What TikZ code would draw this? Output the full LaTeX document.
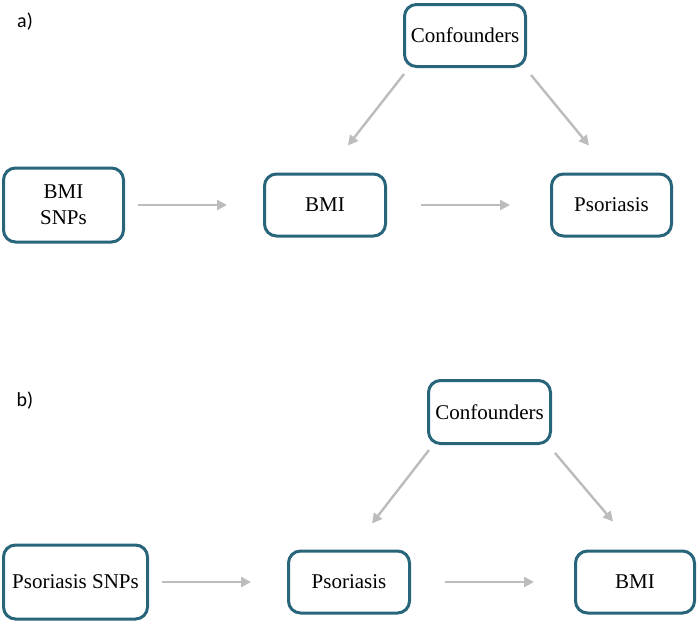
\documentclass[tikz,border=0pt]{standalone}
\usepackage{fontspec}
\setmainfont{Liberation Serif}
\newfontfamily\panelfont{Carlito}
\usetikzlibrary{arrows.meta}
\definecolor{boxteal}{RGB}{40,101,122}
\definecolor{linkgray}{RGB}{188,188,188}
\tikzstyle{box}=[draw=boxteal,line width=1.5pt,rounded corners=6pt,align=center,inner sep=0pt,font=\rmfamily\fontsize{10.5}{13}\selectfont]
\tikzstyle{link}=[draw=linkgray,line width=1.2pt,-{Triangle[length=5pt,width=5pt]}]
\tikzstyle{panel}=[font=\panelfont\fontsize{10}{12}\selectfont]

\begin{document}
\begin{tikzpicture}[x=0.5pt,y=-0.5pt]
	\useasboundingbox (0,0) rectangle (700,623);

	% a)
	\node(lab_a)[panel] at (25,22){a)};
	\node(conf_a)[box,minimum width=60.5pt,minimum height=31pt] at (465,35.5){Confounders};
	\node(snps_a)[box,minimum width=60pt,minimum height=37pt] at (63.5,205){BMI\\SNPs};
	\node(bmi_a)[box,minimum width=60.5pt,minimum height=31pt] at (325,205){BMI};
	\node(psor_a)[box,minimum width=60pt,minimum height=31pt] at (611.5,205){Psoriasis};

	\path (snps_a) edge[link,shorten <=6.5pt,shorten >=18pt] (bmi_a)
	      (bmi_a) edge[link,shorten <=17pt,shorten >=20pt] (psor_a)
	      ([xshift=0.5pt,yshift=-3pt]conf_a.south west) edge[link] ([xshift=-19.5pt,yshift=13.5pt]bmi_a.north east)
	      ([xshift=2pt,yshift=-3.5pt]conf_a.south east) edge[link] ([xshift=19.5pt,yshift=13.5pt]psor_a.north west);

	% b)
	\node(lab_b)[panel] at (25,401){b)};
	\node(conf_b)[box,minimum width=61pt,minimum height=31.5pt] at (489.5,412){Confounders};
	\node(snps_b)[box,minimum width=72pt,minimum height=37pt] at (75.5,582){Psoriasis SNPs};
	\node(psor_b)[box,minimum width=60.5pt,minimum height=31pt] at (349,582){Psoriasis};
	\node(bmi_b)[box,minimum width=59.5pt,minimum height=31pt] at (635,582){BMI};

	\path (snps_b) edge[link,shorten <=6.5pt,shorten >=18pt] (psor_b)
	      (psor_b) edge[link,shorten <=17pt,shorten >=20pt] (bmi_b)
	      ([xshift=1pt,yshift=-2.5pt]conf_b.south west) edge[link] ([xshift=-19.5pt,yshift=13pt]psor_b.north east)
	      ([xshift=1.5pt,yshift=-4pt]conf_b.south east) edge[link] ([xshift=19.5pt,yshift=14pt]bmi_b.north west);
\end{tikzpicture}
\end{document}
